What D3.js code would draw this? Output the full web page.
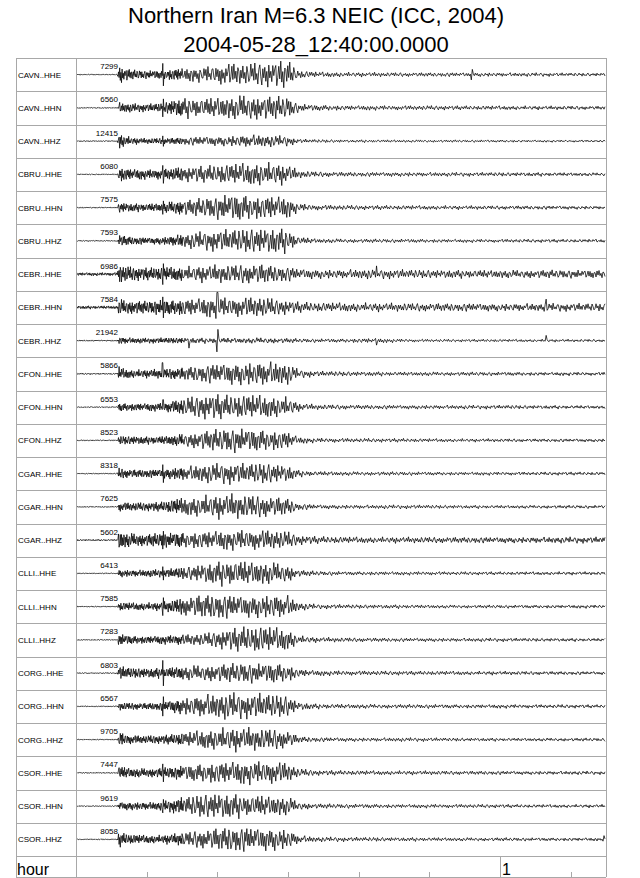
<!DOCTYPE html>
<html><head><meta charset="utf-8">
<script src="https://cdn.jsdelivr.net/npm/d3@7"></script>
<style>html,body{margin:0;padding:0;background:#fff;}svg{display:block;font-family:"Liberation Sans",Arial,Helvetica,sans-serif;}</style>
</head><body>
<script>
// ---- data ----
const titleLines = ["Northern Iran M=6.3 NEIC (ICC, 2004)", "2004-05-28_12:40:00.0000"];
const stations = ["CAVN","CBRU","CEBR","CFON","CGAR","CLLI","CORG","CSOR"];
const components = ["HHE","HHN","HHZ"];
const maxCounts = [7299,6560,12415,6080,7575,7593,6986,7584,21942,5866,6553,8523,8318,7625,5602,6413,7585,7283,6803,6567,9705,7447,9619,8058];
const tickMinutes = [10,20,30,40,50,60,70];
const hourTick = 60, hourLabel = "1";
// envelope knots (minutes) and relative envelope amplitude per trace
const envTimes = [0,5.9,6.1,6.6,8,10,12,14,16,18,20,22,24,26,28,30,31.5,34,38,42,46,50,55,60,65,70,75];
const CAVN_HHE = [0.04,0.04,0.8,0.55,0.35,0.3,0.32,0.45,0.5,0.55,0.7,0.8,0.75,0.85,0.9,1.0,0.3,0.2,0.17,0.16,0.15,0.15,0.15,0.14,0.13,0.12,0.12];
const CAVN_HHN = [0.04,0.04,0.4,0.35,0.3,0.28,0.32,0.6,0.75,0.7,0.8,0.85,0.95,0.9,0.85,0.8,0.3,0.22,0.18,0.17,0.16,0.16,0.15,0.15,0.14,0.14,0.13];
const CAVN_HHZ = [0.04,0.04,0.7,0.45,0.25,0.2,0.22,0.25,0.3,0.35,0.35,0.4,0.45,0.45,0.4,0.35,0.15,0.12,0.1,0.1,0.1,0.09,0.09,0.09,0.08,0.08,0.08];
const CBRU_HHE = [0.04,0.04,0.6,0.5,0.4,0.35,0.38,0.45,0.55,0.6,0.7,0.75,0.8,0.85,0.8,0.7,0.28,0.2,0.17,0.16,0.16,0.15,0.14,0.14,0.14,0.13,0.12];
const CBRU_HHN = [0.04,0.04,0.4,0.35,0.3,0.3,0.32,0.5,0.6,0.7,0.85,1.0,0.95,0.85,0.9,0.75,0.3,0.19,0.17,0.16,0.16,0.15,0.14,0.14,0.14,0.13,0.12];
const CBRU_HHZ = [0.04,0.04,0.5,0.4,0.3,0.25,0.27,0.4,0.55,0.65,0.75,0.8,0.85,0.9,0.95,0.85,0.3,0.17,0.15,0.14,0.14,0.13,0.12,0.12,0.12,0.12,0.12];
const CEBR_HHE = [0.12,0.12,0.85,0.6,0.5,0.45,0.5,0.5,0.55,0.6,0.65,0.65,0.7,0.75,0.65,0.55,0.4,0.35,0.33,0.35,0.32,0.3,0.3,0.3,0.3,0.3,0.3];
const CEBR_HHN = [0.12,0.12,0.7,0.55,0.5,0.45,0.55,0.55,0.65,0.7,0.75,0.7,0.7,0.75,0.6,0.5,0.4,0.35,0.33,0.32,0.3,0.3,0.3,0.28,0.28,0.28,0.28];
const CEBR_HHZ = [0.05,0.05,0.35,0.25,0.2,0.18,0.2,0.2,0.22,0.2,0.22,0.2,0.2,0.22,0.2,0.18,0.15,0.14,0.14,0.18,0.12,0.1,0.1,0.1,0.1,0.1,0.1];
const CFON_HHE = [0.05,0.05,0.55,0.4,0.3,0.3,0.35,0.4,0.55,0.65,0.75,0.8,0.85,0.9,0.85,0.75,0.3,0.2,0.17,0.16,0.15,0.15,0.14,0.14,0.13,0.13,0.12];
const CFON_HHN = [0.04,0.04,0.35,0.3,0.28,0.28,0.3,0.45,0.7,0.85,0.9,0.85,0.9,0.85,0.8,0.7,0.3,0.19,0.17,0.16,0.15,0.15,0.14,0.14,0.13,0.13,0.12];
const CFON_HHZ = [0.04,0.04,0.35,0.3,0.3,0.28,0.3,0.4,0.55,0.7,0.8,0.9,0.85,0.8,0.75,0.65,0.25,0.17,0.15,0.14,0.14,0.13,0.12,0.12,0.12,0.12,0.12];
const CGAR_HHE = [0.04,0.04,0.45,0.35,0.3,0.3,0.32,0.45,0.55,0.65,0.7,0.75,0.7,0.75,0.7,0.6,0.25,0.17,0.15,0.14,0.14,0.13,0.12,0.12,0.12,0.12,0.12];
const CGAR_HHN = [0.04,0.04,0.35,0.3,0.3,0.3,0.35,0.55,0.7,0.8,0.85,0.9,0.85,0.8,0.75,0.65,0.25,0.17,0.15,0.14,0.14,0.13,0.12,0.12,0.12,0.12,0.12];
const CGAR_HHZ = [0.06,0.06,0.85,0.6,0.5,0.45,0.5,0.55,0.6,0.65,0.7,0.7,0.75,0.7,0.7,0.6,0.35,0.27,0.24,0.22,0.22,0.22,0.22,0.22,0.22,0.22,0.22];
const CLLI_HHE = [0.04,0.04,0.3,0.28,0.25,0.25,0.28,0.35,0.5,0.7,0.85,0.95,0.9,0.85,0.8,0.65,0.25,0.17,0.14,0.14,0.13,0.13,0.12,0.12,0.12,0.12,0.12];
const CLLI_HHN = [0.04,0.04,0.35,0.3,0.28,0.28,0.3,0.5,0.75,0.9,0.95,0.85,0.8,0.85,0.9,0.8,0.3,0.17,0.15,0.14,0.14,0.13,0.12,0.12,0.12,0.12,0.12];
const CLLI_HHZ = [0.04,0.04,0.55,0.4,0.3,0.28,0.3,0.35,0.4,0.45,0.6,0.8,0.95,1.0,0.9,0.8,0.3,0.19,0.16,0.15,0.14,0.14,0.13,0.13,0.12,0.12,0.12];
const CORG_HHE = [0.04,0.04,0.55,0.45,0.35,0.35,0.38,0.45,0.55,0.6,0.65,0.7,0.75,0.7,0.75,0.65,0.3,0.2,0.17,0.16,0.15,0.15,0.14,0.14,0.13,0.13,0.12];
const CORG_HHN = [0.04,0.04,0.3,0.28,0.25,0.25,0.3,0.5,0.7,0.85,0.9,0.95,0.85,0.9,0.85,0.75,0.3,0.19,0.17,0.16,0.15,0.15,0.14,0.14,0.13,0.13,0.12];
const CORG_HHZ = [0.04,0.04,0.65,0.45,0.3,0.28,0.3,0.4,0.55,0.7,0.8,0.85,0.85,0.8,0.75,0.65,0.25,0.17,0.15,0.14,0.14,0.13,0.12,0.12,0.12,0.12,0.12];
const CSOR_HHE = [0.04,0.04,0.55,0.45,0.35,0.33,0.36,0.45,0.6,0.7,0.8,0.85,0.8,0.85,0.8,0.7,0.3,0.19,0.17,0.16,0.15,0.15,0.14,0.14,0.13,0.13,0.12];
const CSOR_HHN = [0.04,0.04,0.35,0.3,0.3,0.28,0.3,0.5,0.7,0.85,0.95,0.9,0.8,0.8,0.75,0.7,0.3,0.18,0.16,0.15,0.14,0.14,0.13,0.13,0.12,0.12,0.12];
const CSOR_HHZ = [0.04,0.04,0.65,0.45,0.35,0.3,0.3,0.4,0.55,0.7,0.85,0.95,0.9,0.85,0.85,0.75,0.3,0.18,0.16,0.15,0.14,0.14,0.13,0.13,0.12,0.12,0.12];
// isolated spikes: trace index, time (min), relative amplitude
const spikeTrace = [0,0,1,2,3,4,6,6,7,7,7,8,8,8,8,9,10,12,14,15,16,18,19,21,22,23];
const spikeTime  = [12.3,56,12.3,12.3,12.3,12.3,12.3,42.5,12.3,20,66.5,16,20,42.5,66.5,12.2,12.3,12.3,12.3,12.3,12.3,12.3,12.3,12.3,12.3,74.7];
const spikeAmp   = [0.75,0.35,0.6,0.35,0.6,0.45,0.7,0.55,0.7,1.0,0.55,0.5,0.75,0.3,0.35,0.75,0.5,0.6,0.6,0.45,0.6,0.85,0.65,0.6,0.45,0.25];
// fixed wiggle texture used to draw the oscillation inside each envelope
const carrier = [0.4,-0.9,0.7,-0.3,0.95,-0.6,0.2,-1.0,0.8,0.3,-0.7,-0.45,0.9,-0.2,0.6,-0.85,1.0,-0.5,0.15,-0.75,0.55,0.85,-0.35,-0.95,0.65,-0.25,0.8,-0.6,0.45,-1.0,0.9,-0.4,0.25,-0.7,0.75,-0.15,0.5,0.95,-0.8,-0.3,0.7,-0.55,1.0,-0.65,0.35,-0.9,0.6];
const carrierMod = [1.0,0.7,0.85,0.55,0.95,0.8,0.6,1.0,0.75,0.9,0.5,0.85,0.7];

const envelopes = [CAVN_HHE,CAVN_HHN,CAVN_HHZ,CBRU_HHE,CBRU_HHN,CBRU_HHZ,CEBR_HHE,CEBR_HHN,CEBR_HHZ,
  CFON_HHE,CFON_HHN,CFON_HHZ,CGAR_HHE,CGAR_HHN,CGAR_HHZ,CLLI_HHE,CLLI_HHN,CLLI_HHZ,
  CORG_HHE,CORG_HHN,CORG_HHZ,CSOR_HHE,CSOR_HHN,CSOR_HHZ];
const traceNames = [];
stations.forEach(s => components.forEach(c => traceNames.push(s + ".." + c)));

// ---- layout ----
const W = 640, H = 878;
const frameL = 16, labelR = 76, frameR = 606, frameT = 58, tracesB = 856, frameB = 877;
const nRows = traceNames.length;

const svg = d3.select("body").append("svg").attr("width", W).attr("height", H);

const x = d3.scaleLinear().domain([0, 75]).range([labelR, frameR]);
const rowY = d3.scaleLinear().domain([0, nRows]).range([frameT, tracesB]);
const rowH = rowY(1) - rowY(0);
const amp = d3.scaleLinear().domain([-1, 1]).range([15, -15]);

// title
svg.selectAll("text.title").data(titleLines).join("text")
  .attr("class", "title")
  .attr("x", 316).attr("y", (d, i) => 23 + i * 29)
  .attr("text-anchor", "middle").attr("font-size", 22).attr("fill", "#000")
  .text(d => d);

// grid
const gridColor = "#a8a8a8";
const g = svg.append("g").attr("stroke", gridColor).attr("stroke-width", 1).attr("shape-rendering", "crispEdges");
g.selectAll("line.h").data(d3.range(nRows + 1)).join("line")
  .attr("x1", frameL).attr("x2", frameR)
  .attr("y1", d => Math.round(rowY(d)) + 0.5).attr("y2", d => Math.round(rowY(d)) + 0.5);
g.append("line").attr("x1", frameL).attr("x2", frameR).attr("y1", frameB + 0.5).attr("y2", frameB + 0.5);
[frameL, labelR, frameR].forEach(v => g.append("line").attr("x1", v + 0.5).attr("x2", v + 0.5).attr("y1", frameT).attr("y2", frameB));

// time ticks
g.selectAll("line.tick").data(tickMinutes).join("line")
  .attr("x1", d => Math.round(x(d)) + 0.5).attr("x2", d => Math.round(x(d)) + 0.5)
  .attr("y1", d => d === hourTick ? tracesB : frameB - 5).attr("y2", frameB);
svg.append("text").attr("x", x(hourTick) + 2).attr("y", 875).attr("font-size", 16).attr("fill", "#000").text(hourLabel);
svg.append("text").attr("x", 17).attr("y", 875).attr("font-size", 16).attr("fill", "#000").text("hour");

// labels
svg.selectAll("text.lab").data(traceNames).join("text")
  .attr("x", 18).attr("y", (d, i) => rowY(i) + rowH / 2 + 3)
  .attr("font-size", 8).attr("fill", "#000").text(d => d);
svg.selectAll("text.num").data(maxCounts).join("text")
  .attr("x", 118).attr("y", (d, i) => rowY(i) + 11)
  .attr("text-anchor", "end").attr("font-size", 8).attr("fill", "#000").text(d => d);

// traces
svg.append("clipPath").attr("id", "clip").append("rect")
  .attr("x", labelR + 1).attr("y", frameT - 10).attr("width", frameR - labelR - 1).attr("height", tracesB - frameT + 20);
const tg = svg.append("g").attr("clip-path", "url(#clip)");
const dt = 60 / 425;
// finer sampling through the high-frequency body-wave part, 1 px afterwards
const samples = d3.range(0, 15, dt * 0.6).concat(d3.range(15, 75, dt));
envelopes.forEach((env, i) => {
  const envScale = d3.scaleLinear().domain(envTimes).range(env).clamp(true);
  const mySpikes = spikeTrace.map((t, k) => t === i ? k : -1).filter(k => k >= 0);
  const off = (i * 11) % carrier.length, off2 = (i * 5) % carrierMod.length;
  const yc = rowY(i) + rowH / 2;
  const pts = samples.map((t, j) => {
    let a = envScale(t) * carrierMod[(j + off2) % carrierMod.length];
    let c = carrier[(j + off) % carrier.length];
    mySpikes.forEach(k => { if (Math.abs(t - spikeTime[k]) < dt * 0.6) { a = spikeAmp[k]; c = c < 0 ? -1 : 1; } });
    return [t, a * c];
  });
  const line = d3.line().x(d => x(d[0])).y(d => yc + amp(d[1]));
  tg.append("path").attr("d", line(pts)).attr("fill", "none")
    .attr("stroke", "#000").attr("stroke-width", 0.75).attr("stroke-linejoin", "round");
});
</script>
</body></html>
